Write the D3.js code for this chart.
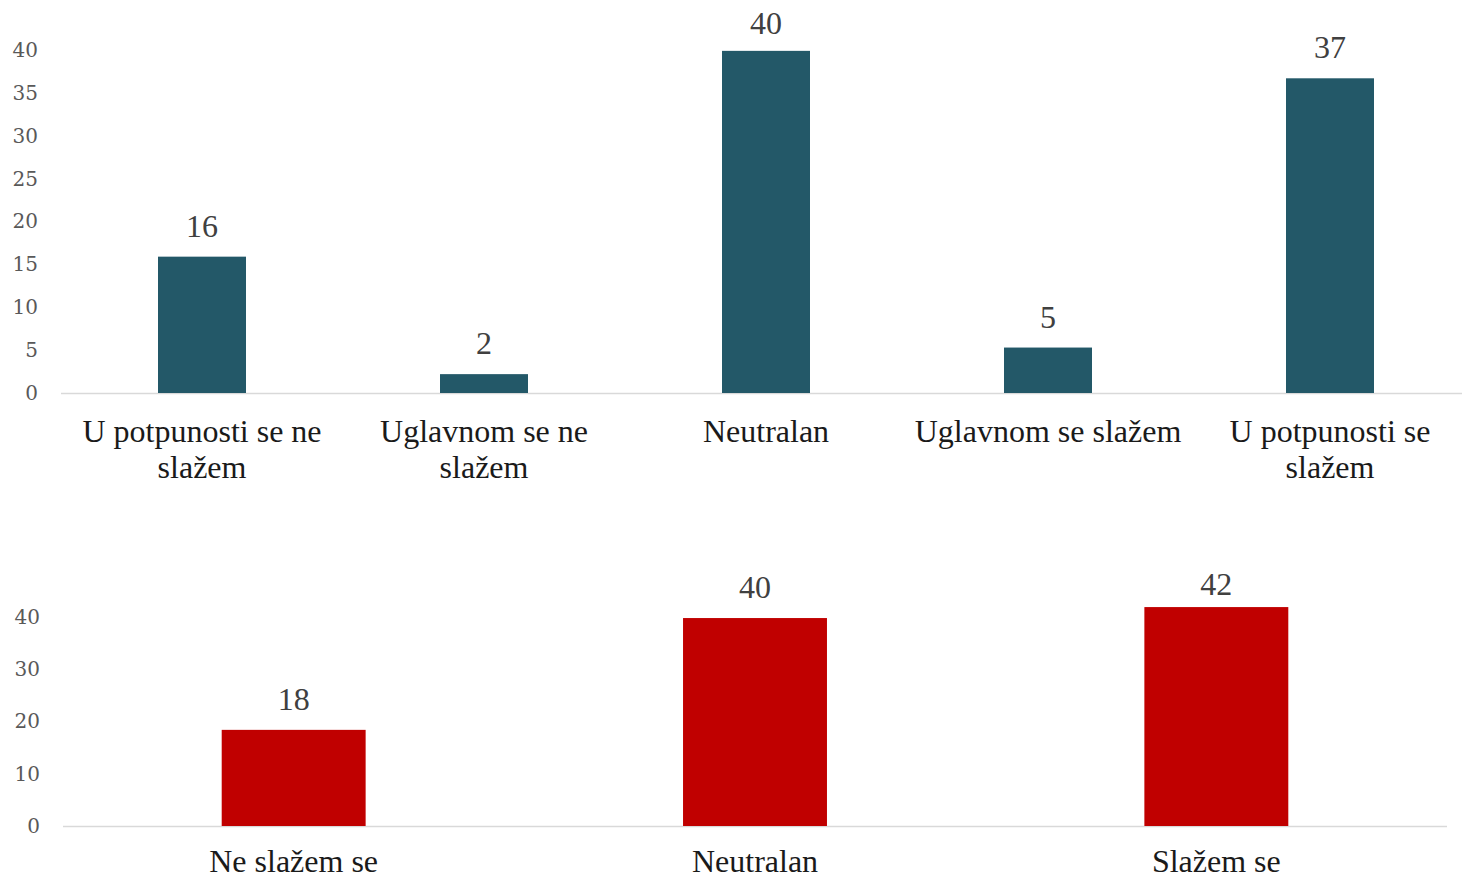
<!DOCTYPE html>
<html>
<head>
<meta charset="utf-8">
<script src="https://cdn.jsdelivr.net/npm/d3@7"></script>
<style>
  body { margin: 0; background: #fff; }
  svg { display: block; }
</style>
</head>
<body>
<div id="chart"></div>
<script>
// top chart: 5-point scale
var topCategories = [["U potpunosti se ne", "slažem"], ["Uglavnom se ne", "slažem"], ["Neutralan"], ["Uglavnom se slažem"], ["U potpunosti se", "slažem"]];
var topValues = [15.9, 2.2, 39.9, 5.3, 36.7];
var topTicks = [0, 5, 10, 15, 20, 25, 30, 35, 40];

// bottom chart: 3-point scale
var bottomCategories = [["Ne slažem se"], ["Neutralan"], ["Slažem se"]];
var bottomValues = [18.4, 39.8, 41.9];
var bottomTicks = [0, 10, 20, 30, 40];

var W = 1462, H = 876;
var serif = "'Liberation Serif', 'Times New Roman', serif";

var svg = d3.select("#chart")
  .append("svg")
    .attr("width", W)
    .attr("height", H);

function drawBars(opts) {
  var names = opts.cats.map(function(d) { return d.join(" "); });

  var x = d3.scaleBand()
    .domain(names)
    .range(opts.xRange)
    .paddingInner(0.688)
    .paddingOuter(0.344);

  var y = d3.scaleLinear()
    .domain([0, 40])
    .range(opts.yRange);

  var g = svg.append("g");

  // y axis labels only, no line
  var yAxis = g.append("g")
    .attr("transform", "translate(" + opts.xRange[0] + ",0)")
    .call(d3.axisLeft(y).tickValues(opts.ticks).tickSize(0).tickPadding(23));
  yAxis.select(".domain").remove();
  yAxis.selectAll("text")
    .style("font-family", "'DejaVu Serif', serif")
    .style("font-size", "20px")
    .style("fill", "#595959");

  // baseline
  g.append("line")
    .attr("x1", opts.xRange[0])
    .attr("x2", opts.xRange[1])
    .attr("y1", y(0) + 0.5)
    .attr("y2", y(0) + 0.5)
    .style("stroke", "#d9d9d9")
    .style("stroke-width", 1.5);

  g.selectAll(".bar")
    .data(opts.values)
    .enter()
    .append("rect")
      .attr("x", function(d, i) { return x(names[i]); })
      .attr("y", function(d) { return y(d); })
      .attr("width", x.bandwidth())
      .attr("height", function(d) { return y(0) - y(d); })
      .style("fill", opts.color);

  // value labels sit above the bars, kept inside the plot area
  g.selectAll(".val")
    .data(opts.values)
    .enter()
    .append("text")
      .attr("x", function(d, i) { return x(names[i]) + x.bandwidth() / 2; })
      .attr("y", function(d) { return Math.max(y(d) - 20, opts.labelMin); })
      .attr("text-anchor", "middle")
      .style("font-family", serif)
      .style("font-size", "32px")
      .style("fill", "#404040")
      .text(function(d) { return Math.round(d); });

  // category labels, possibly two lines
  var lab = g.selectAll(".cat")
    .data(opts.cats)
    .enter()
    .append("text")
      .attr("text-anchor", "middle")
      .attr("transform", function(d, i) {
        return "translate(" + (x(names[i]) + x.bandwidth() / 2) + "," + (y(0) + opts.labelOffset) + ")";
      })
      .style("font-family", serif)
      .style("font-size", "32px")
      .style("fill", "#1a1a1a");
  lab.selectAll("tspan")
    .data(function(d) { return d; })
    .enter()
    .append("tspan")
      .attr("x", 0)
      .attr("dy", function(d, i) { return i === 0 ? 0 : 36; })
      .text(function(d) { return d; });
}

drawBars({
  cats: topCategories,
  values: topValues,
  ticks: topTicks,
  xRange: [61, 1471],
  yRange: [393, 50],
  color: "#235868",
  labelOffset: 49,
  labelMin: 34
});

drawBars({
  cats: bottomCategories,
  values: bottomValues,
  ticks: bottomTicks,
  xRange: [63, 1447],
  yRange: [826, 617],
  color: "#c00000",
  labelOffset: 46,
  labelMin: 595
});
</script>
</body>
</html>
